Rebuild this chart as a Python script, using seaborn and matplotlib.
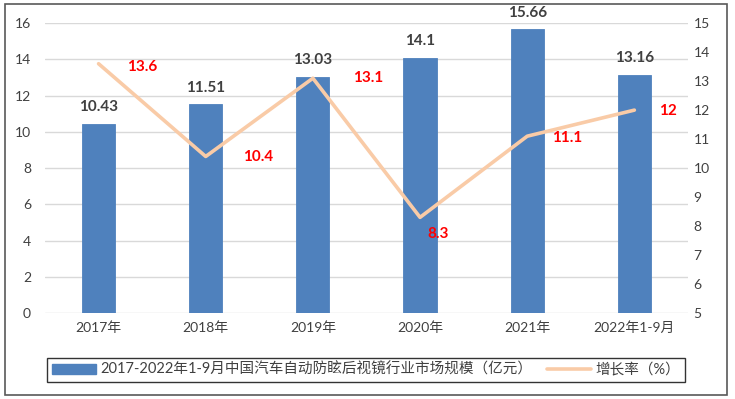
import matplotlib
matplotlib.use("Agg")
import matplotlib.pyplot as plt
import seaborn as sns
import pandas as pd
from matplotlib.patches import Rectangle
from matplotlib.lines import Line2D

categories = ["2017年", "2018年", "2019年", "2020年", "2021年", "2022年1-9月"]
market_size = [10.43, 11.51, 13.03, 14.1, 15.66, 13.16]
growth_rate = [13.6, 10.4, 13.1, 8.3, 11.1, 12]
bar_label_text = ["10.43", "11.51", "13.03", "14.1", "15.66", "13.16"]
growth_label_text = ["13.6", "10.4", "13.1", "8.3", "11.1", "12"]
bar_name = "2017-2022年1-9月中国汽车自动防眩后视镜行业市场规模（亿元）"
line_name = "增长率（%）"

sns.set_theme(style="white")
FAM = ["Lato", "Noto Sans CJK SC", "DejaVu Sans"]
plt.rcParams["font.family"] = FAM

BAR_C = "#4F81BD"
LINE_C = "#F9CBA7"
TXT_C = "#404040"

df = pd.DataFrame({"cat": categories, "size": market_size, "growth": growth_rate})

fig = plt.figure(figsize=(7.35, 3.99), dpi=100)
ax = fig.add_axes([0.0612, 0.2155, 0.8748, 0.7265])

sns.barplot(data=df, x="cat", y="size", color=BAR_C, width=0.31, ax=ax,
            saturation=1, edgecolor=BAR_C, linewidth=0.6, zorder=3)
ax.set_ylim(0, 16)
ax.set_yticks(range(0, 17, 2))
ax.set_xlim(-0.5, 5.5)
ax.grid(axis="y", color="#D9D9D9", linewidth=1, zorder=0)
ax.set_axisbelow(True)
for s in ax.spines.values():
    s.set_visible(False)
ax.set_xlabel("")
ax.set_ylabel("")
ax.tick_params(axis="both", length=0, labelsize=10, labelcolor=TXT_C)
ax.tick_params(axis="y", pad=10)
ax.tick_params(axis="x", pad=6)

ax.bar_label(ax.containers[0], labels=bar_label_text, padding=7,
             fontsize=11, fontweight="bold", color=TXT_C)

ax2 = ax.twinx()
sns.lineplot(x=categories, y=growth_rate, sort=False, ax=ax2, color=LINE_C,
             linewidth=2.6, zorder=4)
ax2.set_ylim(5, 15)
ax2.set_yticks(range(5, 16))
for s in ax2.spines.values():
    s.set_visible(False)
ax2.tick_params(axis="y", length=0, labelsize=10, labelcolor=TXT_C, pad=4)
ax2.set_ylabel("")
ax2.grid(False)

offsets = [(44, -3), (52, -1), (55, 0), (18, -17), (40, -2), (34, -1)]
for c, v, t, off in zip(categories, growth_rate, growth_label_text, offsets):
    ax2.annotate(t, (c, v), xytext=off, textcoords="offset pixels",
                 ha="center", va="center", color="#FF0000",
                 fontsize=11, fontweight="bold")

handles = [Rectangle((0, 0), 1, 1, color=BAR_C),
           Line2D([0], [0], color=LINE_C, linewidth=2.6)]
leg = fig.legend(handles, [bar_name, line_name], loc="center",
                 bbox_to_anchor=(0.498, 0.073), ncol=2, frameon=True,
                 fancybox=False, edgecolor="#000000", fontsize=10.5,
                 handlelength=3.0, handleheight=0.7, columnspacing=1.0,
                 borderpad=0.35, handletextpad=0.3)
leg.get_frame().set_linewidth(1.0)
for t in leg.get_texts():
    t.set_color(TXT_C)

fig.add_artist(Rectangle((5 / 735, 4 / 399), 722 / 735, 391 / 399,
                         transform=fig.transFigure, fill=False,
                         edgecolor="#595959", linewidth=1.2))

fig.savefig("out.png", dpi=100)
